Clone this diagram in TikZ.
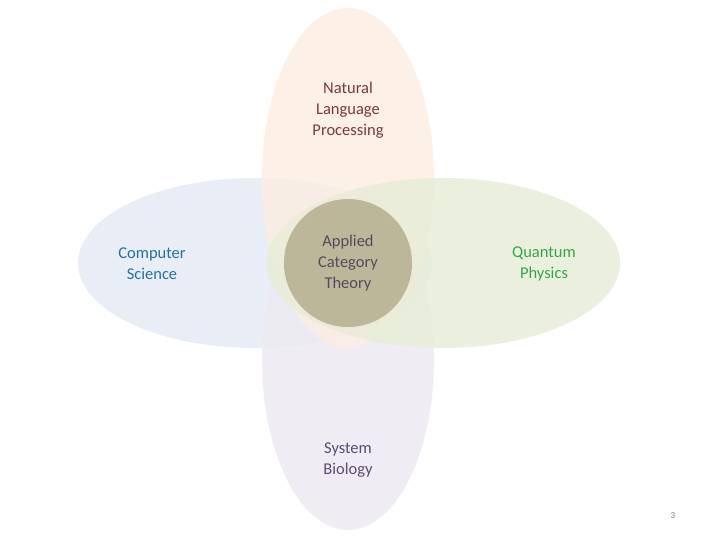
\documentclass[tikz,border=0pt]{standalone}
\usepackage{fontspec}
\setmainfont{Carlito}
\definecolor{topc}{HTML}{FCEDE2}
\definecolor{leftc}{HTML}{E5EBF5}
\definecolor{rightc}{HTML}{E7EDD7}
\definecolor{botc}{HTML}{ECEAF1}
\definecolor{circc}{HTML}{BDB799}
\definecolor{nlpt}{HTML}{7B3B3B}
\definecolor{cst}{HTML}{2071A0}
\definecolor{qpt}{HTML}{2FA84C}
\definecolor{actt}{HTML}{574862}
\definecolor{sbt}{HTML}{5E4A78}
\tikzset{
  petal/.style={fill opacity=0.82, draw=none},
  lbl/.style={align=center, font=\fontsize{16.5}{21}\selectfont, inner sep=0pt}
}
\begin{document}
\begin{tikzpicture}[x=1pt,y=-1pt]
\useasboundingbox (0,0) rectangle (720,540);
\fill[white] (0,0) rectangle (720,540);
\fill[petal, leftc] (255,263) ellipse [x radius=177, y radius=85];
\fill[petal, botc] (348,360) ellipse [x radius=86, y radius=170];
\fill[petal, topc] (348,178) ellipse [x radius=86, y radius=170];
\fill[petal, rightc] (443,263) ellipse [x radius=177, y radius=85];
\node[circle, fill=circc, minimum size=128pt, inner sep=0pt] (act) at (348,263) {};
\node[lbl, text=actt] (actl) at (348,263) {Applied\\Category\\Theory};
\node[lbl, text=nlpt] (nlp) at (348,110) {Natural\\Language\\Processing};
\node[lbl, text=cst] (cs) at (152,264) {Computer\\Science};
\node[lbl, text=qpt] (qp) at (544,264) {Quantum\\Physics};
\node[lbl, text=sbt] (sb) at (348,460) {System\\Biology};
\node[font=\fontsize{9}{10}\selectfont, text=gray, inner sep=0pt] (pg) at (673,516) {3};
\end{tikzpicture}
\end{document}
